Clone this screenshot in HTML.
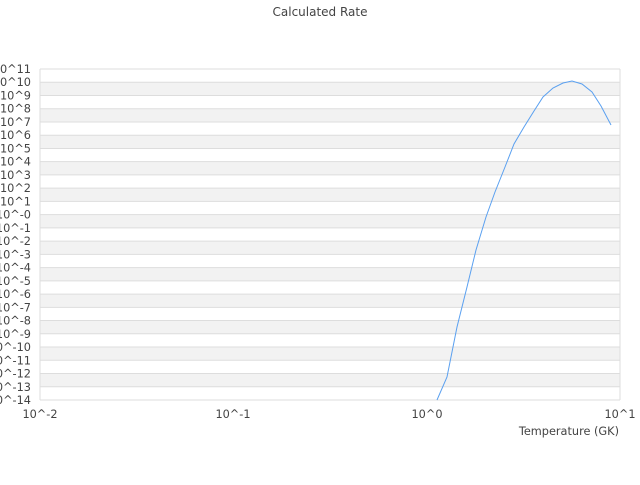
<!DOCTYPE html>
<html><head><meta charset="utf-8"><style>
body{margin:0;background:#fff;}
svg text{font-family:"DejaVu Sans","Liberation Sans",sans-serif;font-size:11.3px;fill:#444;}
</style></head><body>
<svg width="640" height="480" xmlns="http://www.w3.org/2000/svg">
<text x="320" y="16" text-anchor="middle" style="font-size:12px">Calculated Rate</text>
<g fill="#f2f2f2">
<rect x="40" y="82.24" width="580" height="13.24"/>
<rect x="40" y="108.72" width="580" height="13.24"/>
<rect x="40" y="135.2" width="580" height="13.24"/>
<rect x="40" y="161.68" width="580" height="13.24"/>
<rect x="40" y="188.16" width="580" height="13.24"/>
<rect x="40" y="214.64" width="580" height="13.24"/>
<rect x="40" y="241.12" width="580" height="13.24"/>
<rect x="40" y="267.6" width="580" height="13.24"/>
<rect x="40" y="294.08" width="580" height="13.24"/>
<rect x="40" y="320.56" width="580" height="13.24"/>
<rect x="40" y="347.04" width="580" height="13.24"/>
<rect x="40" y="373.52" width="580" height="13.24"/>
</g>
<g stroke="#ddd">
<line x1="40" x2="620" y1="69" y2="69"/>
<line x1="40" x2="620" y1="82.24" y2="82.24"/>
<line x1="40" x2="620" y1="95.48" y2="95.48"/>
<line x1="40" x2="620" y1="108.72" y2="108.72"/>
<line x1="40" x2="620" y1="121.96" y2="121.96"/>
<line x1="40" x2="620" y1="135.2" y2="135.2"/>
<line x1="40" x2="620" y1="148.44" y2="148.44"/>
<line x1="40" x2="620" y1="161.68" y2="161.68"/>
<line x1="40" x2="620" y1="174.92" y2="174.92"/>
<line x1="40" x2="620" y1="188.16" y2="188.16"/>
<line x1="40" x2="620" y1="201.4" y2="201.4"/>
<line x1="40" x2="620" y1="214.64" y2="214.64"/>
<line x1="40" x2="620" y1="227.88" y2="227.88"/>
<line x1="40" x2="620" y1="241.12" y2="241.12"/>
<line x1="40" x2="620" y1="254.36" y2="254.36"/>
<line x1="40" x2="620" y1="267.6" y2="267.6"/>
<line x1="40" x2="620" y1="280.84" y2="280.84"/>
<line x1="40" x2="620" y1="294.08" y2="294.08"/>
<line x1="40" x2="620" y1="307.32" y2="307.32"/>
<line x1="40" x2="620" y1="320.56" y2="320.56"/>
<line x1="40" x2="620" y1="333.8" y2="333.8"/>
<line x1="40" x2="620" y1="347.04" y2="347.04"/>
<line x1="40" x2="620" y1="360.28" y2="360.28"/>
<line x1="40" x2="620" y1="373.52" y2="373.52"/>
<line x1="40" x2="620" y1="386.76" y2="386.76"/>
<line x1="40" x2="620" y1="400" y2="400"/>
<line x1="40" y1="69" x2="40" y2="400"/>
<line x1="620" y1="69" x2="620" y2="400"/>
</g>
<g text-anchor="end">
<text x="31" y="73">10^11</text>
<text x="31" y="86.24">10^10</text>
<text x="31" y="99.48">10^9</text>
<text x="31" y="112.72">10^8</text>
<text x="31" y="125.96">10^7</text>
<text x="31" y="139.2">10^6</text>
<text x="31" y="152.44">10^5</text>
<text x="31" y="165.68">10^4</text>
<text x="31" y="178.92">10^3</text>
<text x="31" y="192.16">10^2</text>
<text x="31" y="205.4">10^1</text>
<text x="31" y="218.64">10^-0</text>
<text x="31" y="231.88">10^-1</text>
<text x="31" y="245.12">10^-2</text>
<text x="31" y="258.36">10^-3</text>
<text x="31" y="271.6">10^-4</text>
<text x="31" y="284.84">10^-5</text>
<text x="31" y="298.08">10^-6</text>
<text x="31" y="311.32">10^-7</text>
<text x="31" y="324.56">10^-8</text>
<text x="31" y="337.8">10^-9</text>
<text x="31" y="351.04">10^-10</text>
<text x="31" y="364.28">10^-11</text>
<text x="31" y="377.52">10^-12</text>
<text x="31" y="390.76">10^-13</text>
<text x="31" y="404">10^-14</text>
</g>
<text x="40" y="418" text-anchor="middle">10^-2</text>
<text x="233" y="418" text-anchor="middle">10^-1</text>
<text x="427" y="418" text-anchor="middle">10^0</text>
<text x="620" y="418" text-anchor="middle">10^1</text>
<text x="619" y="435" text-anchor="end">Temperature (GK)</text>
<polyline fill="none" stroke="#5aa0f0" stroke-width="1" points="437,400 447,377 457,327 467,287 476,250 486,217 495,192 505,167 514,144 524,127 534,111 543,97 553,88 563,83 572,81 582,84 592,92 601,106 611,125"/>
</svg>
</body></html>
